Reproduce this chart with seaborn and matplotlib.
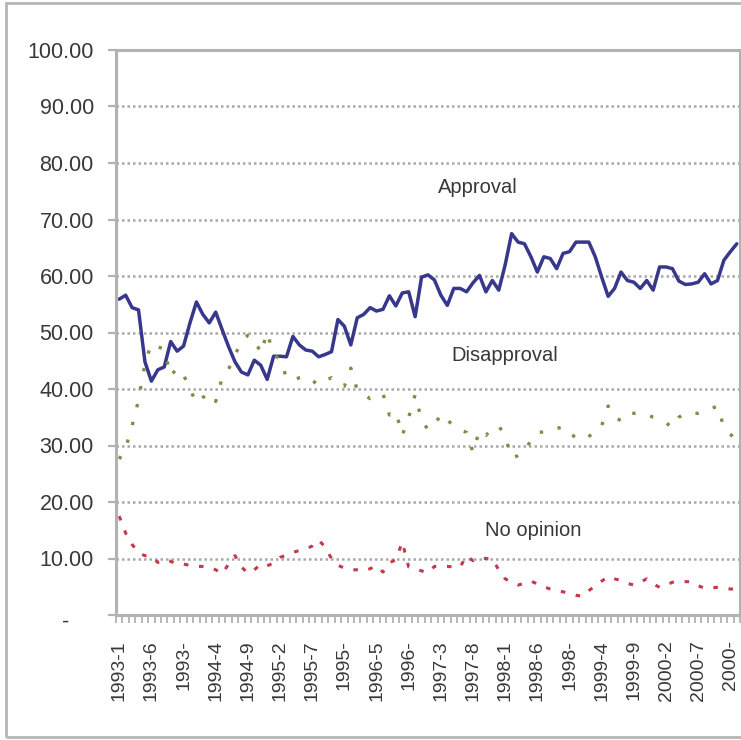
import numpy as np
import pandas as pd
import matplotlib
matplotlib.use("Agg")
import matplotlib.pyplot as plt
import matplotlib.transforms as mtransforms
from matplotlib.patches import Rectangle
import seaborn as sns

# --------------------------------------------------------------------------
# Data: monthly poll, 1993-1 .. 2001-1 (97 months)
# --------------------------------------------------------------------------
approval = [55.9, 56.6, 54.4, 54.0, 44.8, 41.4, 43.4, 43.9, 48.4, 46.7,
            47.6, 51.7, 55.4, 53.2, 51.7, 53.6, 50.5, 47.5, 44.8, 43.0,
            42.5, 45.1, 44.2, 41.7, 45.8, 45.8, 45.7, 49.3, 47.8, 46.9,
            46.7, 45.7, 46.1, 46.6, 52.3, 51.1, 47.8, 52.6, 53.2, 54.4,
            53.8, 54.1, 56.5, 54.7, 57.0, 57.2, 52.8, 59.8, 60.2, 59.3,
            56.6, 54.8, 57.8, 57.8, 57.2, 58.8, 60.1, 57.2, 59.2, 57.5,
            62.0, 67.5, 66.0, 65.7, 63.4, 60.7, 63.4, 63.1, 61.3, 64.0,
            64.3, 66.0, 66.0, 66.0, 63.4, 59.8, 56.4, 57.8, 60.7, 59.2,
            58.9, 57.8, 59.2, 57.5, 61.6, 61.6, 61.3, 59.1, 58.5, 58.6,
            58.9, 60.4, 58.6, 59.2, 62.8, 64.3, 65.7]

disapproval = [27.6, 29.5, 33.5, 38.0, 44.5, 48.0, 47.5, 47.0, 42.3, 43.7,
               42.5, 40.0, 37.5, 38.5, 39.3, 37.8, 42.0, 43.5, 46.0, 48.4,
               49.5, 49.0, 46.3, 50.0, 46.0, 45.3, 42.0, 41.5, 42.0, 42.3,
               41.5, 40.7, 41.5, 42.0, 41.0, 40.5, 43.7, 39.8, 39.0, 38.3,
               38.8, 39.2, 35.4, 36.0, 31.8, 35.0, 39.0, 34.5, 32.8, 33.5,
               35.6, 34.5, 33.5, 32.8, 32.3, 28.8, 32.7, 31.8, 33.0, 33.5,
               31.6, 27.8, 28.2, 28.8, 31.0, 32.3, 32.4, 32.5, 33.0, 33.3,
               32.0, 31.5, 31.0, 31.5, 33.0, 33.5, 37.0, 35.0, 34.4, 35.7,
               35.7, 35.7, 35.5, 35.0, 34.7, 34.0, 33.2, 35.0, 35.7, 35.7,
               35.7, 36.0, 36.5, 37.0, 33.2, 32.0, 30.8]

no_opinion = [17.5, 14.5, 12.5, 11.0, 10.5, 10.4, 9.3, 9.8, 9.5, 9.0,
              9.0, 8.8, 8.6, 8.6, 8.5, 8.0, 7.3, 9.0, 10.5, 8.5,
              7.4, 8.0, 9.0, 8.7, 9.2, 10.2, 10.6, 11.1, 11.4, 11.7,
              12.2, 13.3, 12.0, 10.0, 8.8, 8.3, 8.0, 8.0, 7.8, 8.2,
              8.7, 7.6, 9.2, 9.8, 12.9, 8.5, 8.2, 7.8, 7.5, 8.6,
              8.6, 8.6, 8.5, 8.5, 10.5, 9.6, 10.1, 10.0, 9.9, 8.0,
              6.4, 5.8, 5.3, 5.6, 6.0, 5.5, 5.0, 4.6, 4.3, 4.1,
              3.8, 3.5, 3.3, 4.3, 5.2, 6.0, 6.8, 6.4, 6.1, 5.6,
              5.3, 5.8, 6.4, 5.5, 4.9, 5.3, 5.8, 5.9, 5.9, 5.9,
              5.2, 4.7, 4.8, 4.9, 4.8, 4.6, 4.6]

# every 5th month is labelled (Excel cut the two-digit months short)
tick_labels = ["1993-1", "1993-6", "1993-", "1994-4", "1994-9",
               "1995-2", "1995-7", "1995-", "1996-5", "1996-",
               "1997-3", "1997-8", "1998-1", "1998-6", "1998-",
               "1999-4", "1999-9", "2000-2", "2000-7", "2000-"]
y_labels = ["-", "10.00", "20.00", "30.00", "40.00", "50.00",
            "60.00", "70.00", "80.00", "90.00", "100.00"]

df = pd.DataFrame({
    "month": np.arange(len(approval)),
    "approval": approval,
    "disapproval": disapproval,
    "no_opinion": no_opinion,
})

# --------------------------------------------------------------------------
# Plot
# --------------------------------------------------------------------------
sns.set_style("white")
plt.rcParams["font.family"] = ["Liberation Sans", "DejaVu Sans"]

text_col = "#383838"
grey = "#b2b2b2"

fig = plt.figure(figsize=(7.41, 7.40), dpi=100)
ax = fig.add_axes([116 / 741, 1 - 615 / 740, 624 / 741, 565 / 740])

sns.lineplot(data=df, x="month", y="approval", ax=ax, color="#37378c", lw=2.5)
sns.lineplot(data=df, x="month", y="disapproval", ax=ax, color="#858a45",
             lw=2.4, linestyle=(0, (1, 4.5)))
sns.lineplot(data=df, x="month", y="no_opinion", ax=ax, color="#c33a4a",
             lw=2.2, linestyle=(0, (1.5, 3.5)))

ax.set_xlim(-0.5, len(approval) - 0.5)
ax.set_ylim(0, 100)
ax.set_xlabel("")
ax.set_ylabel("")

ax.set_yticks(np.arange(0, 101, 10))
ax.set_yticklabels(y_labels)
ax.set_xticks(np.arange(0, len(approval), 5))
ax.set_xticklabels(tick_labels, rotation=90, ha="center", va="top")
ax.set_xticks(np.arange(-0.5, len(approval), 1), minor=True)

ax.tick_params(axis="x", which="major", bottom=True, length=0, pad=18,
               labelsize=14, labelcolor=text_col)
ax.tick_params(axis="x", which="minor", bottom=True, length=6, width=1.3,
               color=grey, direction="out")
ax.tick_params(axis="y", left=True, length=6, width=1.6, color=grey,
               direction="out", pad=10, labelsize=15.5, labelcolor=text_col)

ax.yaxis.grid(True, color="#a9a9a9", lw=1.8, linestyle=(0, (1, 1.2)))
ax.xaxis.grid(False)
ax.set_axisbelow(True)

for side, sp in ax.spines.items():
    sp.set_color(grey)
    sp.set_linewidth(2.2)

# accounting-style zero sits further left
zero_lbl = ax.get_yticklabels()[0]
zero_lbl.set_transform(zero_lbl.get_transform()
                       + mtransforms.ScaledTranslation(-0.25, -0.05, fig.dpi_scale_trans))

# series names inside the plot
ax.text(55.8, 75.6, "Approval", ha="center", va="center", fontsize=14.5, color=text_col)
ax.text(60.0, 46.0, "Disapproval", ha="center", va="center", fontsize=14.5, color=text_col)
ax.text(64.3, 15.0, "No opinion", ha="center", va="center", fontsize=14.5, color=text_col)

# outer chart frame
fig.add_artist(Rectangle((6 / 741, 3 / 740), 1.0, 734 / 740, transform=fig.transFigure,
                         fill=False, ec="#b6b6b6", lw=2.0))

fig.savefig("out.png", dpi=100, facecolor="white")
